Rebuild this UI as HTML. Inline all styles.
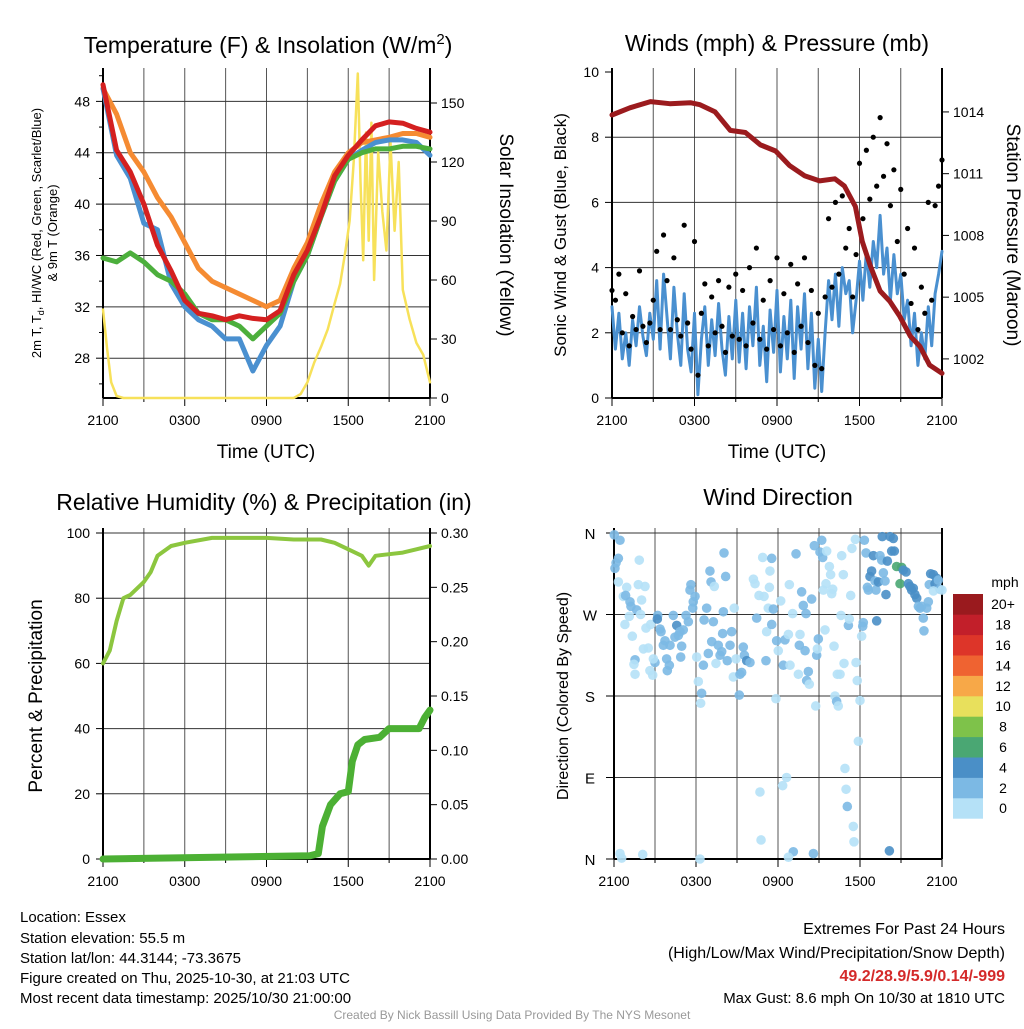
<!DOCTYPE html>
<html><head><meta charset="utf-8"><style>
body{margin:0;background:#fff}
svg{font-family:"Liberation Sans",Arial,sans-serif}
</style></head><body>
<svg id="fig" width="1024" height="1024" viewBox="0 0 1024 1024" xmlns="http://www.w3.org/2000/svg">
<g id="g"></g>
<text x="268" y="53" font-size="23" text-anchor="middle">Temperature (F) &amp; Insolation (W/m<tspan dy="-9" font-size="15">2</tspan><tspan dy="9">)</tspan></text>
<text x="777" y="51" font-size="23" text-anchor="middle">Winds (mph) &amp; Pressure (mb)</text>
<text x="264" y="510" font-size="23" text-anchor="middle">Relative Humidity (%) &amp; Precipitation (in)</text>
<text x="778" y="505" font-size="23" text-anchor="middle">Wind Direction</text>
<text x="266" y="458" font-size="19" text-anchor="middle">Time (UTC)</text>
<text x="777" y="458" font-size="19" text-anchor="middle">Time (UTC)</text>
<text transform="translate(41,233) rotate(-90)" font-size="13" text-anchor="middle">2m T, T<tspan font-size="9" dy="3">d</tspan><tspan dy="-3">, HI/WC (Red, Green, Scarlet/Blue)</tspan></text>
<text transform="translate(57,233) rotate(-90)" font-size="13" text-anchor="middle">&amp; 9m T (Orange)</text>
<text transform="translate(500,235) rotate(90)" font-size="19" text-anchor="middle">Solar Insolation (Yellow)</text>
<text transform="translate(566,235) rotate(-90)" font-size="17" text-anchor="middle">Sonic Wind &amp; Gust (Blue, Black)</text>
<text transform="translate(1007,235) rotate(90)" font-size="19" text-anchor="middle">Station Pressure (Maroon)</text>
<text transform="translate(42,696) rotate(-90)" font-size="19" text-anchor="middle">Percent &amp; Precipitation</text>
<text transform="translate(568,696) rotate(-90)" font-size="16" text-anchor="middle">Direction (Colored By Speed)</text>
<g font-size="15">
<text x="20" y="922">Location: Essex</text>
<text x="20" y="943">Station elevation: 55.5 m</text>
<text x="20" y="963">Station lat/lon: 44.3144; -73.3675</text>
<text x="20" y="983">Figure created on Thu, 2025-10-30, at 21:03 UTC</text>
<text x="20" y="1003">Most recent data timestamp: 2025/10/30 21:00:00</text>
</g>
<g text-anchor="end">
<text x="1005" y="934" font-size="16">Extremes For Past 24 Hours</text>
<text x="1005" y="958" font-size="16">(High/Low/Max Wind/Precipitation/Snow Depth)</text>
<text x="1005" y="981" font-size="16" font-weight="bold" fill="#d42a2a">49.2/28.9/5.9/0.14/-999</text>
<text x="1005" y="1003" font-size="15">Max Gust: 8.6 mph On 10/30 at 1810 UTC</text>
</g>
<text x="512" y="1019" font-size="12" fill="#999" text-anchor="middle">Created By Nick Bassill Using Data Provided By The NYS Mesonet</text>
</svg>
<script>
// ---- data ----
const hrs = [0,1,2,3,4,5,6,7,8,9,10,11,12,13,14,15,16,17,18,19,20,21,22,23,24];
const tempRed = [49.3,44.2,42.5,40,36.8,34.8,32.5,31.5,31.3,31,31.3,31.1,31,31.7,34.5,36.4,39.1,42.2,43.8,45,46.1,46.4,46.3,45.9,45.6];
const tempGreen = [35.8,35.5,36.2,35.5,34.5,34,33,31.5,31,31,30.5,29.5,30.5,31.5,34,36,39,41.8,43.5,44,44.3,44.3,44.5,44.5,44.3];
const tempBlue = [49,43.8,42,38.5,38,33.8,32,31,30.5,29.5,29.5,27,29,30.5,34,36,39,41.8,43.5,44.2,44.8,45,45,44.8,43.8];
const tempOrange = [49,47,44,42.5,40.5,39,37,35,34,33.5,33,32.5,32,32.5,35,37,40,42.5,44,44.8,45,45.2,45.5,45.5,45.2];
const solHrs = [0,0.3,0.6,1.0,1.5,14.0,14.5,15,15.5,16,16.5,17,17.4,17.8,18.1,18.4,18.7,18.9,19.1,19.3,19.5,19.7,19.9,20.2,20.5,20.8,21.1,21.4,21.7,22,22.5,23,23.5,24];
const solar = [45,25,8,1,0,0,2,8,18,26,35,48,58,75,90,120,165,110,70,135,80,140,60,125,95,75,130,85,120,55,40,28,22,8];
const presHrs = [0,1.3,2.8,4.2,5.7,6.4,7.5,8.6,9.7,10.8,11.9,12.9,14.0,15.1,16.2,16.9,17.7,18.2,18.8,19.5,20.2,20.9,21.7,22.4,23.1,24];
const pressure = [1013.85,1014.2,1014.5,1014.4,1014.45,1014.35,1014.0,1013.1,1013.0,1012.4,1012.1,1011.4,1010.9,1010.65,1010.75,1010.4,1009.4,1007.7,1006.5,1005.3,1004.8,1004.1,1003.1,1002.6,1001.7,1001.3];
const windSpd = [2.8,1.5,2.6,1.2,2.0,1.0,2.4,1.6,2.8,1.9,1.3,2.6,1.8,
3.6,1.5,3.8,2.5,1.2,3.4,2.0,1.0,3.2,1.5,0.8,2.6,
0.1,1.8,2.8,1.0,2.4,1.3,2.9,1.5,0.7,2.5,1.2,3.0,
1.1,2.6,0.9,2.8,1.6,3.4,1.0,2.2,0.5,2.7,1.4,3.3,
0.8,2.5,1.2,3.0,0.6,2.8,1.5,3.2,0.9,2.6,0.3,1.8,
0.2,2.0,3.6,2.4,3.8,2.2,4.0,3.2,3.6,2.0,3.0,4.2,
3.0,4.5,3.4,4.8,4.0,5.6,3.8,4.6,3.0,4.4,3.2,3.8,
2.4,3.0,1.6,2.6,1.0,2.0,1.2,2.8,1.6,3.2,3.8,4.5];
const windGust = [3.3,3.0,3.8,2.0,3.2,1.6,2.5,2.1,3.9,2.2,1.7,2.3,3.0,
4.5,2.1,5.0,3.6,2.1,4.3,2.4,1.9,5.3,2.3,1.5,4.8,
0.7,2.6,3.5,1.6,3.1,2.0,3.6,2.2,1.4,3.4,1.9,3.8,
1.8,3.3,1.6,4.0,2.3,4.6,1.8,3.0,1.5,3.6,2.1,4.3,
1.6,3.2,2.0,4.1,1.4,3.5,2.2,4.3,1.7,3.3,1.0,2.6,
0.9,3.1,5.5,3.4,6.0,3.8,6.2,4.6,5.2,3.1,4.4,7.2,
5.5,7.6,6.1,8.0,6.5,8.6,6.8,7.8,5.9,7.0,4.8,6.4,
3.8,5.2,2.9,4.6,2.1,3.4,2.6,6.0,3.0,5.9,6.5,7.3];
const rhHrs = [0,0.5,1,1.5,2,3,3.5,4,5,6,8,10,12,14,16,17,18,19,19.5,20,21,22,23,24];
const rh = [60,64,73,80,81,85,88,93,96,97,98.5,98.5,98.5,98,98,97,95,93,90,93,93.5,94,95,96];
const pcpHrs = [0,15.2,15.8,16.1,16.7,17.4,18,18.3,18.7,19.2,20.3,21,23.2,23.6,24];
const precip = [0,0.003,0.005,0.03,0.05,0.06,0.062,0.09,0.105,0.11,0.112,0.12,0.12,0.13,0.137];
const dirHrs = [0.02,0.44,0.32,0.15,0.07,0.32,0.93,0.68,0.85,1.17,1.24,1.12,1.66,1.95,1.78,1.85,2.27,2.02,0.8,1.34,1.54,1.46,1.54,2.15,2.51,2.34,2.68,2.63,2.83,3.0,2.88,3.2,3.17,3.37,3.44,3.61,3.73,3.85,3.9,4.05,4.1,4.34,4.59,4.46,4.71,4.83,4.95,4.88,5.07,5.27,5.44,5.56,5.63,5.8,5.93,5.76,6.05,6.17,6.41,6.34,6.54,6.59,6.78,7.02,7.1,7.34,6.9,7.15,7.27,7.46,7.63,7.76,7.88,7.95,8.0,8.05,8.17,8.29,8.49,8.61,8.73,8.8,8.93,9.22,9.34,9.46,9.54,9.71,9.95,9.17,10.2,10.32,10.44,10.61,10.68,10.76,10.88,10.98,11.12,11.17,11.29,11.41,11.37,11.54,11.54,11.66,11.85,11.9,12.02,12.2,12.39,12.34,12.51,12.63,12.76,12.88,12.83,13.07,13.12,13.32,13.49,13.56,13.61,13.73,13.85,13.98,14.05,14.1,14.22,14.29,14.46,14.59,14.66,14.76,14.83,14.88,14.95,15.07,15.2,15.27,15.32,15.44,15.51,15.56,15.76,15.85,15.93,16.0,16.1,16.17,16.29,16.41,16.34,16.54,16.61,16.66,16.78,16.83,16.9,16.98,17.07,17.15,17.22,17.32,17.41,17.51,17.56,17.66,17.71,17.8,17.88,18.0,18.12,18.2,18.24,18.32,18.44,18.54,18.61,18.73,18.85,18.98,19.1,19.17,19.22,19.34,19.46,19.59,19.63,19.71,19.83,19.9,20.0,20.15,20.2,20.44,20.32,20.51,20.68,20.93,21.05,21.17,21.37,21.54,21.66,21.78,21.9,22.02,22.15,22.27,22.39,22.51,22.63,22.68,22.88,23.0,23.07,23.17,23.37,23.49,23.61,23.73,23.85,24.0,23.37,0.44,0.56,2.1,6.29,12.76];
const dirDeg = [358,352,332,327,321,306,300,290,291,284,279,268,275,270,303,330,301,286,259,246,220,215,204,232,233,255,259,208,203,217,221,269,265,254,251,236,241,221,208,214,236,269,258,245,247,251,235,223,253,269,262,297,303,284,290,277,223,196,183,172,214,264,277,318,306,301,227,240,262,216,236,225,229,249,273,338,312,219,236,251,201,277,221,204,206,234,225,219,217,181,309,304,266,291,74,21,333,290,219,251,277,318,300,332,259,276,177,241,230,285,214,81,242,90,248,214,303,271,8,337,204,236,248,295,280,230,271,197,207,193,287,6,346,169,225,232,243,339,352,333,297,253,304,340,323,314,293,298,235,180,174,169,204,204,269,335,314,216,100,77,58,258,265,291,343,36,19,353,217,197,130,175,246,257,261,352,338,300,297,312,318,335,307,297,263,306,335,330,356,316,307,292,329,9,356,354,340,340,323,304,322,319,317,304,301,297,299,292,288,279,277,279,266,252,277,284,303,315,314,304,310,308,298,297,296,6,1,5,0,2];
const dirSpd = [3,3,3,3,3,1,1,1,3,3,3,1,3,1,1,1,1,1,1,1,3,1,1,1,1,1,1,1,1,3,1,3,5,3,3,3,3,3,3,3,3,3,5,3,3,3,3,3,3,3,3,3,3,3,3,3,1,1,3,1,3,3,3,3,3,1,3,3,3,1,3,3,3,3,3,3,3,3,3,3,1,1,1,3,3,3,3,5,3,3,1,1,3,1,1,1,1,1,3,1,1,1,1,3,3,3,1,3,1,1,3,1,3,1,1,1,1,1,3,3,1,3,1,3,3,3,3,3,3,1,3,3,3,1,3,1,3,3,3,3,1,1,1,1,1,1,1,1,1,1,3,1,1,1,1,1,1,1,1,1,3,3,1,1,1,1,1,1,1,1,1,1,1,3,3,3,3,3,3,5,5,5,3,3,5,5,3,3,5,3,3,5,5,5,5,5,5,5,7,7,7,5,5,5,5,5,5,5,5,3,3,3,3,3,3,3,3,5,5,5,5,3,3,1,1,1,1];
const tempTicks = [28,32,36,40,44,48];
const solTicks = [0,30,60,90,120,150];
const spdTicks = [0,2,4,6,8,10];
const presTicks = [1002,1005,1008,1011,1014];
const rhTicks = [0,20,40,60,80,100];
const pcpTicks = [0,0.05,0.1,0.15,0.2,0.25,0.3];
const dirTicks = [0,90,180,270,360];
const dirLabels = ['N','E','S','W','N'];
const timeTicks = [0,6,12,18,24];
const timeLabels = ['2100','0300','0900','1500','2100'];
const legendLabels = ['0','2','4','6','8','10','12','14','16','18','20+'];
const legendColors = ['#b5e1f7','#7cb9e4','#4a8fc7','#4aa773','#7ec24a','#e8e05c','#f7a848','#ef6331','#dd3529','#c21f2a','#9a1a1e'];

const NS='http://www.w3.org/2000/svg';
const G=document.getElementById('g');
function el(tag,attrs,parent){const e=document.createElementNS(NS,tag);for(const k in attrs)e.setAttribute(k,attrs[k]);(parent||G).appendChild(e);return e;}
function lin(d0,d1,r0,r1){return v=>r0+(v-d0)/(d1-d0)*(r1-r0);}

function panel(p){
  const X=lin(0,24,p.x0,p.x1);
  const grp=el('g',{});
  
  
  for(let h=3;h<24;h+=3){const gl=el('line',{x1:X(h),x2:X(h),y1:p.yt,y2:p.y0,stroke:'#555','stroke-width':1},grp);
    }
  p.hgrid.forEach(v=>{const y=p.LY(v);const gl=el('line',{x1:p.x0,x2:p.x1,y1:y,y2:y,stroke:'#333','stroke-width':1},grp);
    });
  el('line',{x1:p.x0,x2:p.x0,y1:p.yt,y2:p.y0,stroke:'#000','stroke-width':2},grp);
  el('line',{x1:p.x1,x2:p.x1,y1:p.yt,y2:p.y0,stroke:'#000','stroke-width':2},grp);
  el('line',{x1:p.x0,x2:p.x1,y1:p.y0,y2:p.y0,stroke:'#000','stroke-width':2},grp);
  for(let h=0;h<=24;h+=3){el('line',{x1:X(h),x2:X(h),y1:p.y0,y2:p.y0+(h%6?4:8),stroke:'#000','stroke-width':1},grp);}
  timeTicks.forEach((h,i)=>{const t=el('text',{x:X(h),y:p.y0+27,'font-size':14,'text-anchor':'middle'},grp);t.textContent=timeLabels[i];
    });
  return {X,grp};
}
function yTicks(p,ticks,Y,side,fmt,grp){
  ticks.forEach(v=>{const y=Y(v);
    const x=side==='l'?p.x0:p.x1;
    el('line',{x1:x,x2:side==='l'?x-7:x+7,y1:y,y2:y,stroke:'#000','stroke-width':1},grp);
    const t=el('text',{x:side==='l'?x-13:x+11,y:y+5,'font-size':14,'text-anchor':side==='l'?'end':'start'},grp);
    t.textContent=fmt(v);
    });
}
function line(X,Y,xs,ys,color,w,name,grp){
  const d=xs.map((x,i)=>(i?'L':'M')+X(x).toFixed(1)+','+Y(ys[i]).toFixed(1)).join('');
  const e=el('path',{d:d,fill:'none',stroke:color,'stroke-width':w,'stroke-linejoin':'round','stroke-linecap':'round'},grp);
  
  return e;
}

// Panel 1
{const TY=lin(24.9,50.6,398,68), SY=lin(0,167.8,398,68);
 const p={name:'temperature-panel',x0:103,x1:430,y0:398,yt:68,LY:TY,hgrid:tempTicks};
 const {X,grp}=panel(p);
 yTicks(p,tempTicks,TY,'l',v=>v,grp);
 [26,30,34,38,42,46,50].forEach(v=>el('line',{x1:103,x2:99,y1:TY(v),y2:TY(v),stroke:'#000'},grp));
 yTicks(p,solTicks,SY,'r',v=>v,grp);
 line(X,SY,solHrs,solar,'#f7e15a',2.5,'insolation-line',grp);
 line(X,TY,hrs,tempOrange,'#f58b32',5,'temp-9m-line',grp);
 line(X,TY,hrs,tempBlue,'#4a90d0',5,'windchill-line',grp);
 line(X,TY,hrs,tempGreen,'#4caf3c',5,'dewpoint-line',grp);
 line(X,TY,hrs,tempRed,'#d42020',5,'temp-2m-line',grp);
}
// Panel 2
{const WY=lin(0,10,398,72), PY=lin(1000.1,1015.94,398,72);
 const p={name:'winds-panel',x0:612,x1:942,y0:398,yt:68,LY:WY,hgrid:[2,4,6,8]};
 const {X,grp}=panel(p);
 yTicks(p,spdTicks,WY,'l',v=>v,grp);
 yTicks(p,presTicks,PY,'r',v=>v,grp);
 const th=windSpd.map((v,i)=>i*0.25);
 line(X,WY,th,windSpd,'#4a90d0',3,'wind-speed-line',grp);
 windGust.forEach((v,i)=>{const c=el('circle',{cx:X(i*0.25),cy:WY(v),r:2.6,fill:'#000'},grp);
   });
 line(X,PY,presHrs,pressure,'#9b1b1e',5,'pressure-line',grp);
}
// Panel 3
{const RY=lin(0,100,859,533), PY=lin(0,0.30,859,533);
 const p={name:'humidity-panel',x0:103,x1:430,y0:859,yt:528,LY:RY,hgrid:[20,40,60,80,100]};
 const {X,grp}=panel(p);
 yTicks(p,rhTicks,RY,'l',v=>v,grp);
 yTicks(p,pcpTicks,PY,'r',v=>v.toFixed(2),grp);
 line(X,RY,rhHrs,rh,'#8cc63f',4,'rh-line',grp);
 line(X,PY,pcpHrs,precip,'#4cb034',7,'precip-line',grp);
}
// Panel 4
{const DY=lin(0,360,859,533);
 const p={name:'direction-panel',x0:614,x1:942,y0:859,yt:528,LY:DY,hgrid:[90,180,270,360]};
 const {X,grp}=panel(p);
 dirTicks.forEach((v,i)=>{const y=DY(v);el('line',{x1:614,x2:606,y1:y,y2:y,stroke:'#000'},grp);
   const t=el('text',{x:590,y:y+6,'font-size':15,'text-anchor':'middle'},grp);t.textContent=dirLabels[i];
   });
 dirHrs.forEach((h,i)=>{if(dirDeg[i]===undefined)return;const s=(dirSpd[i]===undefined)?1:dirSpd[i];const ci=Math.min(10,Math.floor(s/2));
   const c=el('circle',{cx:X(h),cy:DY(dirDeg[i]),r:4.8,fill:legendColors[ci],'fill-opacity':0.9},grp);
   });
 const lg=el('g',{});
 
 const t0=el('text',{x:1005,y:587,'font-size':14,'text-anchor':'middle'},lg);t0.textContent='mph';
 const n=legendLabels.length,bh=20.4;
 legendLabels.forEach((lab,i)=>{const y=594+(n-1-i)*bh;
   el('rect',{x:953,y:y,width:30,height:bh+0.3,fill:legendColors[i]},lg);
   const t=el('text',{x:1003,y:y+bh/2+5,'font-size':14,'text-anchor':'middle'},lg);t.textContent=lab;});
}
</script>
</body></html>
